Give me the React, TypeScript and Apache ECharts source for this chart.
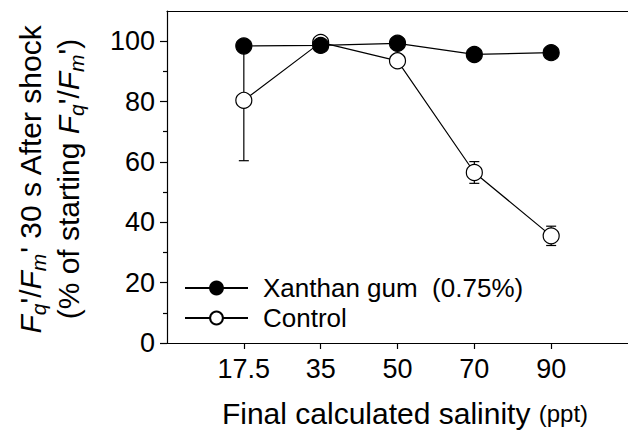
import React, { useEffect, useRef } from 'react';
import * as echarts from 'echarts';

const categories = ['17.5', '35', '50', '70', '90'];
const xanthanName = 'Xanthan gum  (0.75%)';
const controlName = 'Control';
const xanthan = [98.4, 98.6, 99.3, 95.6, 96.2];
const control = [80.4, 99.6, 93.5, 56.5, 35.5];
const controlErr = [20, 0, 0, 3.6, 3.2];
const yMajorTicks = [0, 20, 40, 60, 80, 100];
const yMinorTicks = [10, 30, 50, 70, 90];

const FONT = '"Liberation Sans", Arial, Helvetica, sans-serif';

export default function App() {
  const ref = useRef<HTMLDivElement>(null);
  useEffect(() => {
    const chart = echarts.init(ref.current!, null, { renderer: 'svg' });
    const pos = categories.map((_, i) => i + 1);
    const black = '#000';
    const lw = 1.2;
    const yTitle1 = "{fi|F}{si|q}{n|'/}{fi|F}{si|m}{n|' 30 s After shock}";
    const yTitle2 = "{n|(% of starting }{fi|F}{si|q}{n|'/}{fi|F}{si|m}{n|')}";
    const option: any = {
      animation: false,
      grid: { left: 167, right: -2, top: 11, bottom: 87 },
      xAxis: [
        {
          type: 'value', min: 0, max: 6, interval: 1,
          axisLine: { show: true, onZero: false, lineStyle: { color: black, width: lw } },
          axisTick: { show: true, inside: false, length: 6, customValues: pos, lineStyle: { color: black, width: lw } },
          axisLabel: {
            customValues: pos,
            formatter: (v: number) => categories[Math.round(v) - 1] ?? '',
            fontSize: 27, color: black, margin: 12, fontFamily: FONT,
          },
          splitLine: { show: false },
        },
        {
          type: 'value', position: 'top', min: 0, max: 6,
          axisLine: { show: true, onZero: false, lineStyle: { color: black, width: lw } },
          axisTick: { show: false }, axisLabel: { show: false }, splitLine: { show: false },
        },
      ],
      yAxis: [
        {
          type: 'value', min: 0, max: 110, interval: 10,
          axisLine: { show: true, onZero: false, lineStyle: { color: black, width: lw } },
          axisTick: { show: true, inside: false, length: 7, customValues: yMajorTicks, lineStyle: { color: black, width: lw } },
          axisLabel: { customValues: yMajorTicks, fontSize: 27, color: black, margin: 12, fontFamily: FONT },
          splitLine: { show: false },
        },
        {
          type: 'value', min: 0, max: 110, interval: 10, position: 'left',
          axisLine: { show: false },
          axisTick: { show: true, inside: false, length: 4, customValues: yMinorTicks, lineStyle: { color: black, width: lw } },
          axisLabel: { show: false }, splitLine: { show: false },
        },
      ],
      legend: {
        orient: 'vertical', left: 184, top: 273, padding: 0, itemWidth: 63, itemHeight: 16, itemGap: 0,
        data: [xanthanName, controlName],
        textStyle: { fontSize: 26, lineHeight: 30, color: black, fontFamily: FONT, padding: [0, 0, 0, 10] },
      },
      graphic: [
        {
          type: 'text', x: 49, y: 179, rotation: Math.PI / 2,
          style: {
            text: yTitle1 + '\n' + yTitle2, align: 'center', verticalAlign: 'middle', fill: black,
            rich: {
              n: { fontSize: 30, lineHeight: 38, fontFamily: FONT, fill: black },
              fi: { fontSize: 30, lineHeight: 38, fontFamily: FONT, fontStyle: 'italic', fill: black },
              si: { fontSize: 21, lineHeight: 16, fontFamily: FONT, fontStyle: 'italic', verticalAlign: 'bottom', fill: black },
            },
          },
        },
        {
          type: 'text', x: 405, y: 413,
          style: {
            text: '{a|Final calculated salinity }{b|(ppt)}', align: 'center', verticalAlign: 'middle', fill: black,
            rich: {
              a: { fontSize: 30, fontFamily: FONT, fill: black },
              b: { fontSize: 24, fontFamily: FONT, fill: black },
            },
          },
        },
      ],
      series: [
        {
          type: 'custom', z: 1, silent: true,
          encode: { x: 0, y: 1 },
          data: control.map((v, i) => [i + 1, v, controlErr[i]]).filter((d) => d[2] > 0),
          renderItem: (_p: any, api: any) => {
            const x = api.value(0), y = api.value(1), e = api.value(2);
            const top = api.coord([x, y + e]);
            const bot = api.coord([x, y - e]);
            const w = 5;
            const st = { stroke: black, lineWidth: lw };
            return {
              type: 'group',
              children: [
                { type: 'line', shape: { x1: top[0], y1: top[1], x2: bot[0], y2: bot[1] }, style: st },
                { type: 'line', shape: { x1: top[0] - w, y1: top[1], x2: top[0] + w, y2: top[1] }, style: st },
                { type: 'line', shape: { x1: bot[0] - w, y1: bot[1], x2: bot[0] + w, y2: bot[1] }, style: st },
              ],
            };
          },
        },
        {
          name: controlName, type: 'line', z: 2,
          data: control.map((v, i) => [i + 1, v]),
          symbol: 'circle', symbolSize: 16,
          itemStyle: { color: '#fff', borderColor: black, borderWidth: lw },
          lineStyle: { color: black, width: lw },
        },
        {
          name: xanthanName, type: 'line', z: 3,
          data: xanthan.map((v, i) => [i + 1, v]),
          symbol: 'circle', symbolSize: 16,
          itemStyle: { color: black, borderColor: black, borderWidth: lw },
          lineStyle: { color: black, width: lw },
        },
      ],
    };
    chart.setOption(option);
    return () => chart.dispose();
  }, []);
  return <div ref={ref} style={{ width: 628, height: 430, position: 'absolute', left: 0, top: 0 }} />;
}
